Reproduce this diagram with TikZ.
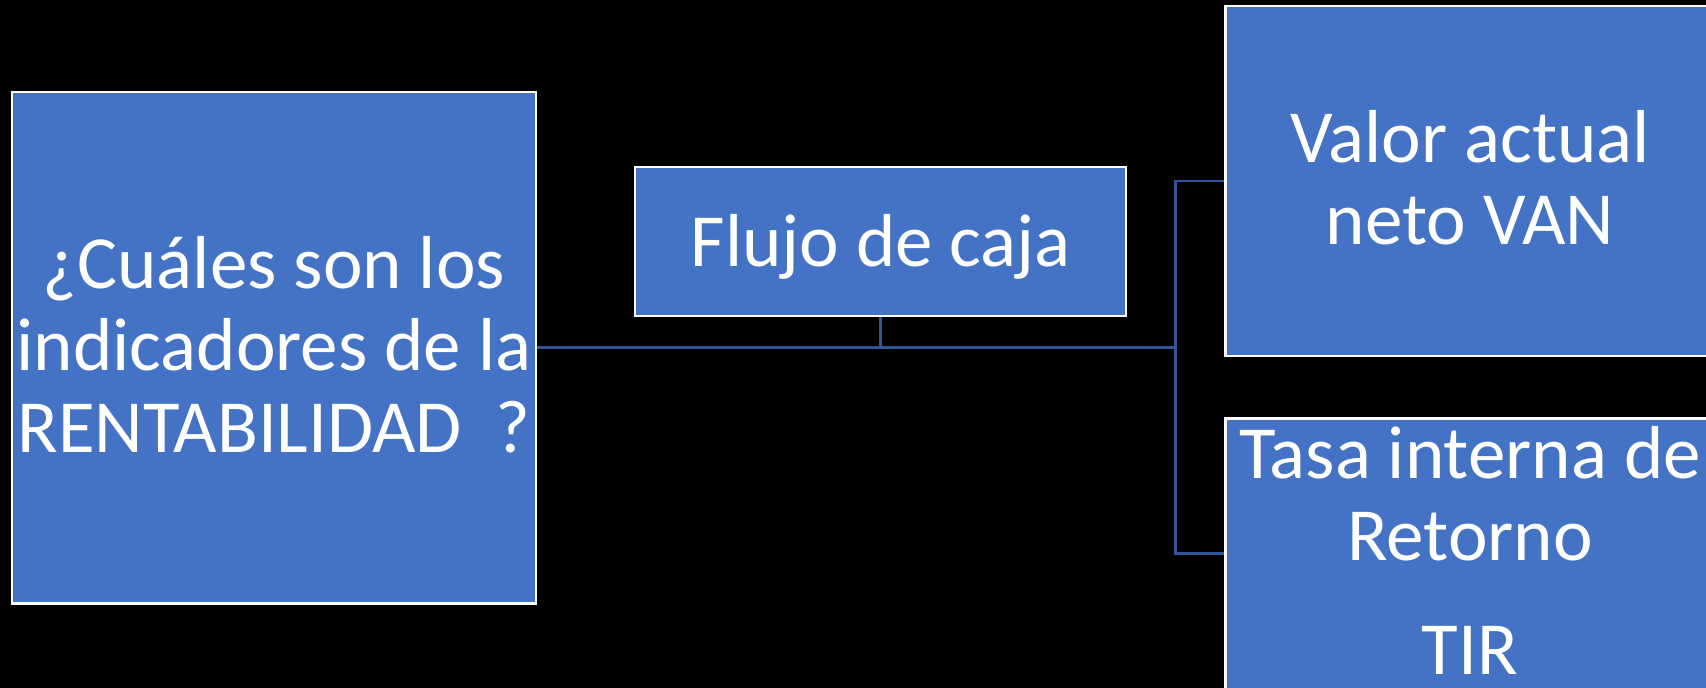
\documentclass[tikz,border=0pt]{standalone}
\usepackage{fontspec}
\setmainfont{Carlito}
\usepackage{tikz}
\definecolor{cajaazul}{HTML}{4472C4}
\definecolor{lineaazul}{HTML}{2F5597}
\tikzstyle{caja}=[draw=white,fill=cajaazul,line width=0.5mm,text=white,align=center,inner sep=0pt,font=\fontsize{42.7}{46.8}\selectfont]
\tikzstyle{enlace}=[draw=lineaazul,line width=0.55mm]
\newcommand{\alto}{\rule{0pt}{40pt}}

\begin{document}
\begin{tikzpicture}[x=0.2mm,y=-0.2mm]
  \fill[black] (0,0) rectangle (1706,688);
  \useasboundingbox (0,0) rectangle (1706,688);

  \node[caja,minimum width=104.8mm,minimum height=102.3mm] (pregunta) at (274,347.7)
    {\alto¿Cuáles son los\\indicadores de la\\RENTABILIDAD~~?\strut};
  \node[caja,minimum width=98.2mm,minimum height=29.8mm] (flujo) at (880.7,241.7)
    {\rule{0pt}{36pt}Flujo de caja};
  \node[caja,minimum width=97.9mm,minimum height=70mm] (van) at (1470,180.9)
    {\alto Valor actual\\neto VAN\strut};
  % el texto se sale de la caja
  \node[caja,inner ysep=-3mm,minimum width=97.9mm,minimum height=54.1mm] (tir) at (1470,553.7)
    {\alto Tasa interna de\\Retorno\\[18pt]TIR\strut};

  % conectores
  \coordinate (nudo) at (1175.3,347.7);
  \draw[enlace] (pregunta) -- (nudo);
  \draw[enlace] (flujo) -- (flujo |- nudo);
  \draw[enlace] (van.west) -- (van.west -| nudo) -- (tir.west -| nudo) -- (tir.west);

\end{tikzpicture}
\end{document}
